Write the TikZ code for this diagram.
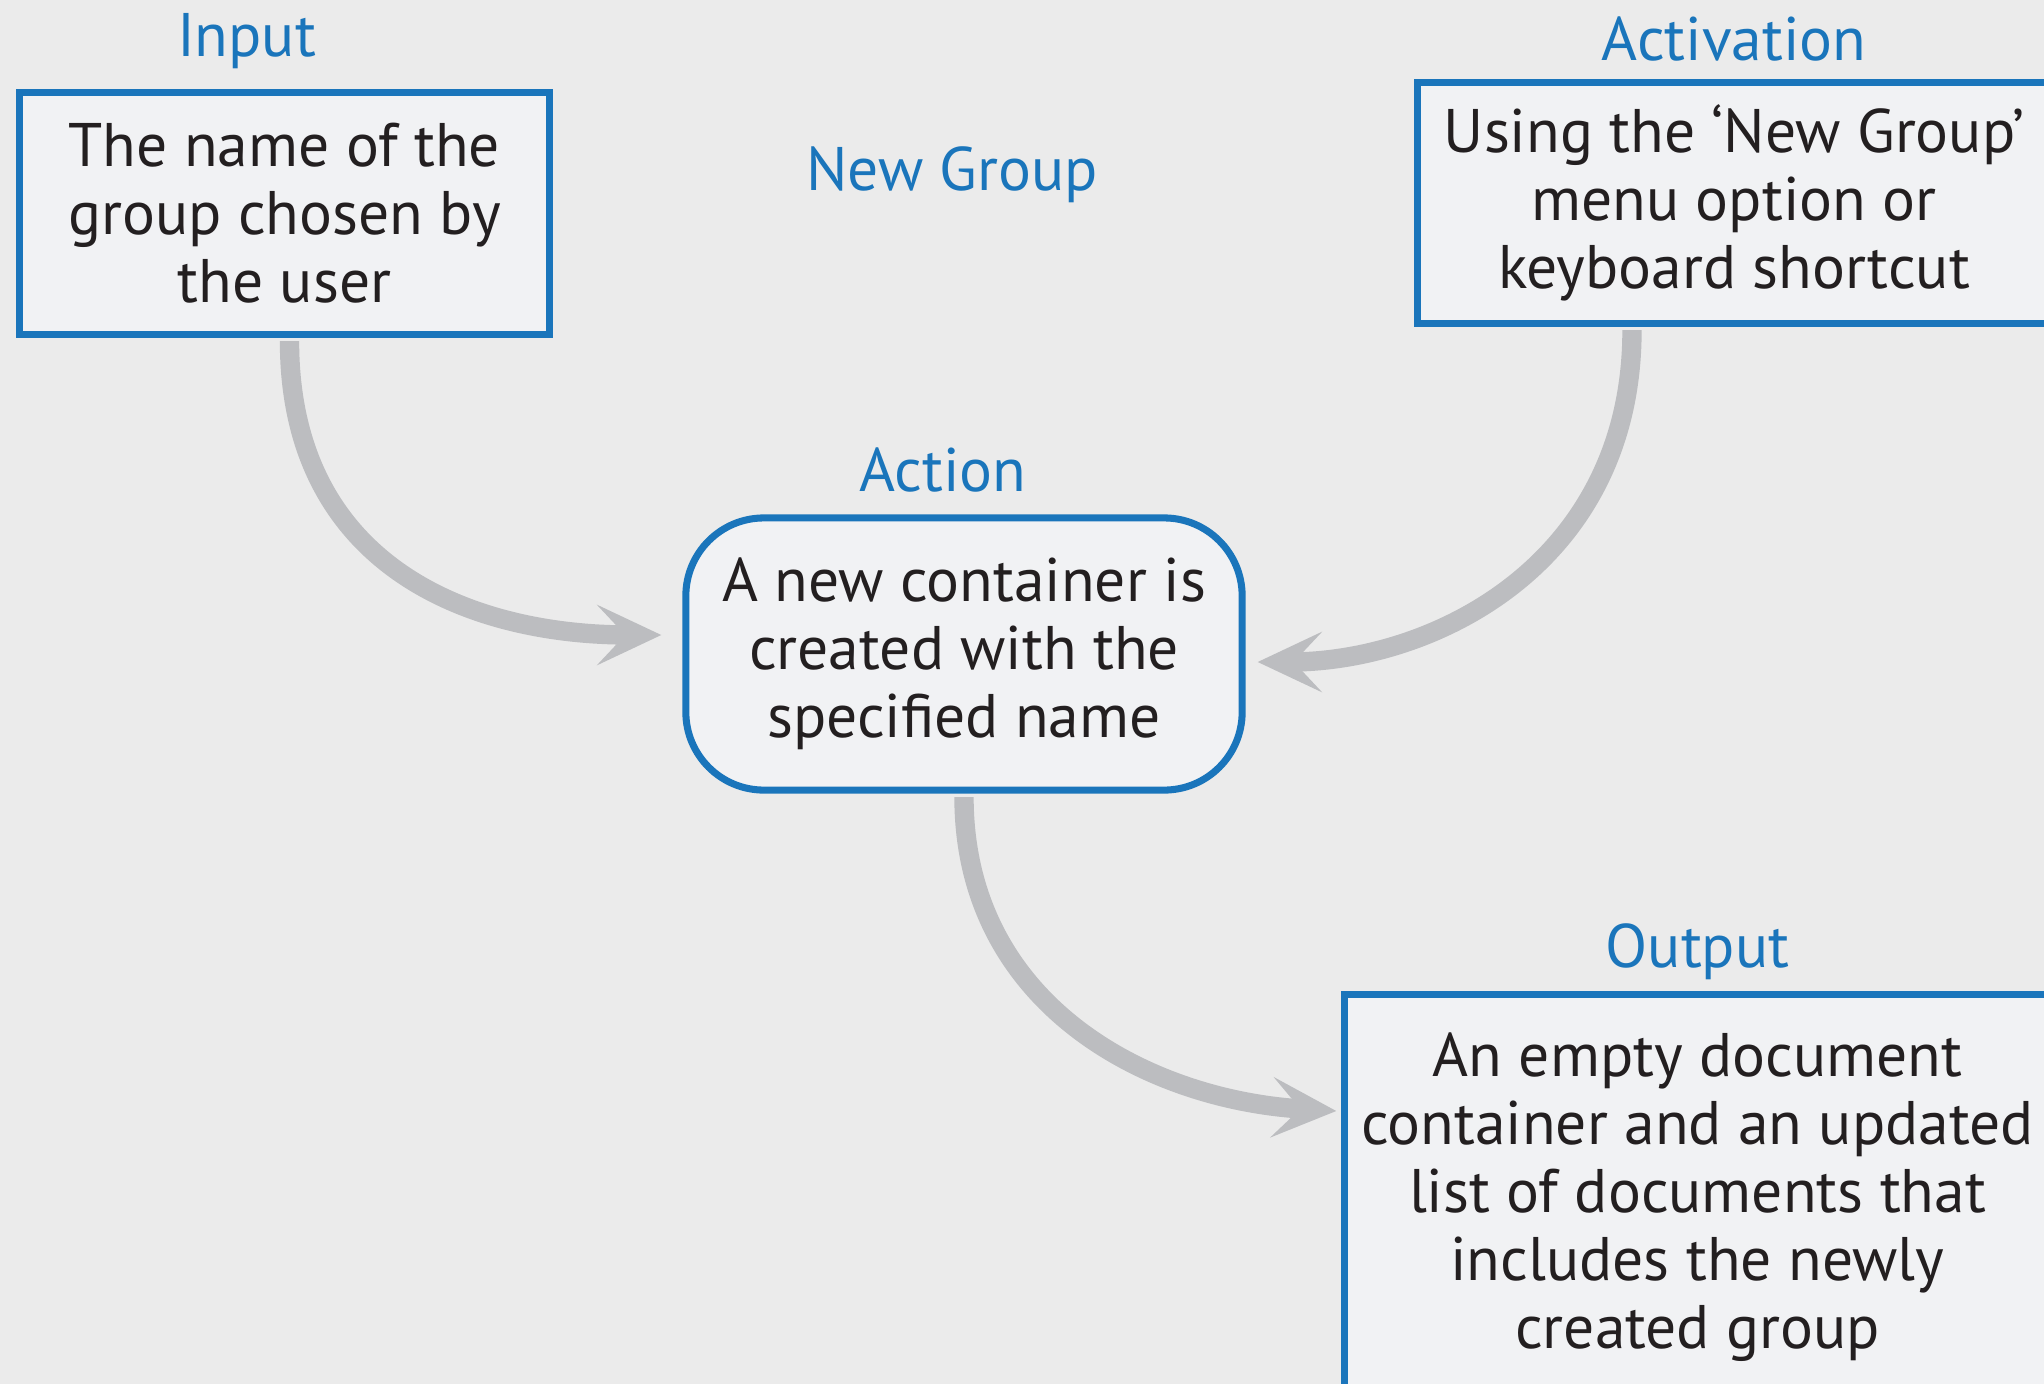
\documentclass[tikz,border=0pt]{standalone}
\usepackage{fontspec}
\setmainfont{PT Sans}
\usetikzlibrary{positioning,calc,arrows.meta}
\definecolor{bluebox}{HTML}{1A75BB}
\definecolor{boxfill}{HTML}{F1F2F4}
\definecolor{paper}{HTML}{EBEBEB}
\definecolor{flow}{HTML}{BCBDC0}
\definecolor{ink}{HTML}{231F20}

\begin{document}
\begin{tikzpicture}[
                x=0.01cm, y=-0.01cm,
                every node/.append style={font=\fontsize{17.5}{19.3}\selectfont},
                box/.style={draw=bluebox,line width=2pt,fill=boxfill,text=ink,align=center,inner sep=0pt},
                title/.style={text=bluebox,inner sep=0pt,text depth=0pt},
                flowarrow/.style={draw=flow,line width=5.5pt,shorten <=1pt,-{Stealth[length=6.4mm,width=6mm,inset=2.8mm]}}
            ]
                \fill[paper] (0,0) rectangle (2044,1384);
                \useasboundingbox (0,0) rectangle (2044,1384);
                \clip (0,0) rectangle (2044,1384);
                \node (input)  [box,minimum width=5.29cm,minimum height=2.41cm] at (284.5,213.5) {The name of the\\group chosen by\\the user};
                \node (activ)  [box,minimum width=6.32cm,minimum height=2.40cm] at (1734,203) {Using the ‘New Group’\\menu option or\\keyboard shortcut};
                \node (action) [box,rounded corners=0.78cm,minimum width=5.56cm,minimum height=2.72cm] at (964,654) {A new container is\\created with the\\specified name};
                \node (output) [box,minimum width=7.05cm,minimum height=4.04cm] at (1697.5,1197) {An empty document\\container and an updated\\list of documents that\\includes the newly\\created group};
                \node (inlbl)  [title,above=0.32cm of input,xshift=-0.38cm] {Input};
                \node (actvlbl)[title,above=0.18cm of activ]  {Activation};
                \node (actlbl) [title,above=0.22cm of action,xshift=-0.21cm] {Action};
                \node (outlbl) [title,above=0.23cm of output] {Output};
                \node (name)   [title] at (952,169) {New Group};
                \draw[flowarrow] ($(input.south)+(5,0)$) .. controls +(0,226) and +(-195,0) .. ($(action.west)+(-21,-19)$);
                \draw[flowarrow] ($(activ.south)+(-102,0)$) .. controls +(0,237) and +(176,0) .. ($(action.east)+(12,8)$);
                \draw[flowarrow] (action.south) .. controls +(0,210) and +(-190,-11) .. ($(output.west)+(-5,-86)$);
            \end{tikzpicture}
\end{document}
